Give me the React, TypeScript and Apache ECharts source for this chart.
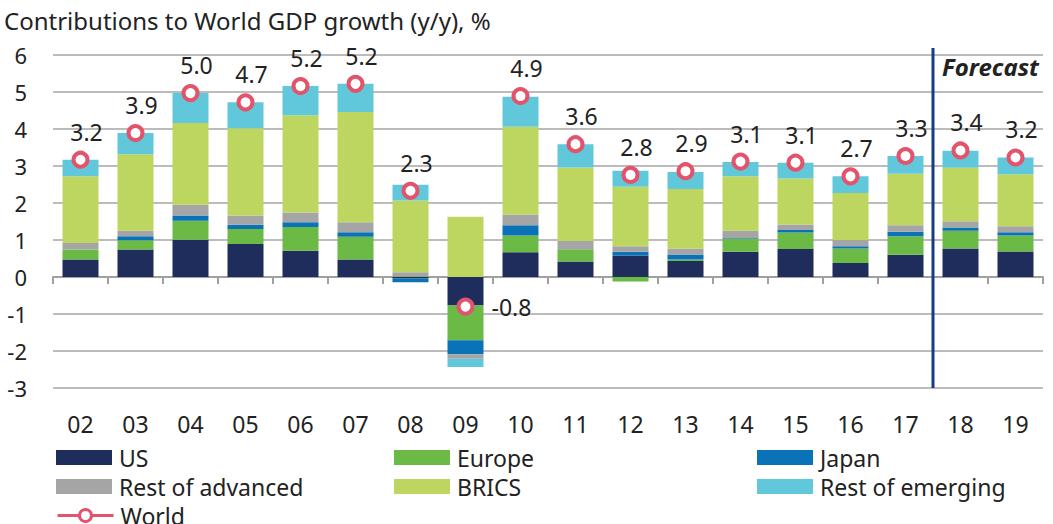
import React, { useEffect, useRef } from "react";
import * as echarts from "echarts";

const categories = ["02","03","04","05","06","07","08","09","10","11","12","13","14","15","16","17","18","19"];
const usValues = [0.47,0.74,1.01,0.89,0.71,0.47,-0.04,-0.77,0.67,0.42,0.58,0.43,0.68,0.76,0.38,0.60,0.77,0.69];
const europeValues = [0.27,0.25,0.51,0.41,0.64,0.62,0.02,-0.94,0.45,0.33,-0.12,0.04,0.35,0.44,0.39,0.50,0.48,0.43];
const japanValues = [0.0,0.11,0.14,0.11,0.13,0.12,-0.10,-0.38,0.28,0.0,0.10,0.14,0.02,0.07,0.06,0.12,0.09,0.09];
const restAdvancedValues = [0.18,0.15,0.29,0.25,0.26,0.27,0.11,-0.12,0.29,0.22,0.15,0.16,0.20,0.15,0.17,0.18,0.17,0.16];
const bricsValues = [1.80,2.07,2.21,2.36,2.63,2.98,1.94,1.63,2.37,1.99,1.61,1.61,1.47,1.24,1.27,1.39,1.44,1.41];
const restEmergingValues = [0.45,0.57,0.81,0.70,0.79,0.76,0.42,-0.22,0.81,0.63,0.43,0.46,0.39,0.43,0.45,0.48,0.46,0.45];
const worldValues = [3.17,3.89,4.97,4.72,5.16,5.22,2.33,-0.80,4.89,3.59,2.76,2.86,3.12,3.09,2.72,3.27,3.42,3.23];
const yTicks = [-3,-2,-1,0,1,2,3,4,5,6];

const FONT = "'Noto Sans', 'Open Sans', sans-serif";
const TEXT = "#222222";
const RED = "#e2546c";

const barSeries = [
  { name: "US", data: usValues, color: "#1e2d5b" },
  { name: "Europe", data: europeValues, color: "#6aba45" },
  { name: "Japan", data: japanValues, color: "#0a73b7" },
  { name: "Rest of advanced", data: restAdvancedValues, color: "#a6a5a6" },
  { name: "BRICS", data: bricsValues, color: "#bdd65f" },
  { name: "Rest of emerging", data: restEmergingValues, color: "#61c8dc" },
];

const legendPlaces: [string, number, number][] = [
  ["US", 56, 446],
  ["Europe", 394, 446],
  ["Japan", 757, 446],
  ["Rest of advanced", 56, 475],
  ["BRICS", 394, 475],
  ["Rest of emerging", 757, 475],
  ["World", 56, 504],
];

export default function App() {
  const ref = useRef<HTMLDivElement>(null);
  useEffect(() => {
    if (!ref.current) return;
    const chart = echarts.init(ref.current, null, { renderer: "svg" });
    const option: any = {
      animation: false,
      textStyle: { fontFamily: FONT },
      title: {
        text: "Contributions to World GDP growth (y/y), %",
        left: 4,
        top: 8,
        padding: 0,
        textStyle: { fontFamily: FONT, fontSize: 24, fontWeight: "normal", color: TEXT },
      },
      grid: { left: 53, right: 10, top: 55, bottom: 136, containLabel: false },
      legend: legendPlaces.map(([name, left, top]) => ({
        data: [name],
        left,
        top,
        padding: 0,
        itemWidth: 56,
        itemHeight: 15,
        textStyle: { fontFamily: FONT, fontSize: 23, color: TEXT, padding: [0, 0, 0, 2] },
        ...(name === "World"
          ? {
              lineStyle: { opacity: 1, color: RED, width: 3 },
              itemStyle: { color: "#fff", borderColor: RED, borderWidth: 3 },
            }
          : { icon: "rect" }),
      })),
      xAxis: [
        {
          type: "category",
          data: categories,
          position: "bottom",
          axisLine: { onZero: true, lineStyle: { color: "#a0a0a0", width: 2 } },
          axisTick: { show: true, length: 7, lineStyle: { color: "#a0a0a0", width: 2 } },
          axisLabel: { show: false },
          splitLine: { show: false },
        },
        {
          type: "category",
          data: categories,
          position: "bottom",
          axisLine: { show: false, onZero: false },
          axisTick: { show: false },
          axisLabel: { fontFamily: FONT, fontSize: 23, color: TEXT, margin: 24 },
        },
      ],
      yAxis: {
        type: "value",
        min: yTicks[0],
        max: yTicks[yTicks.length - 1],
        interval: 1,
        axisLine: { show: false },
        axisTick: { show: false },
        axisLabel: { fontFamily: FONT, fontSize: 22, color: TEXT, margin: 26 },
        splitLine: { lineStyle: { color: "#a6a6a6", width: 1.5 } },
      },
      series: [
        ...barSeries.map((s) => ({
          name: s.name,
          type: "bar",
          stack: "total",
          xAxisIndex: 0,
          data: s.data,
          barWidth: 36,
          itemStyle: { color: s.color },
        })),
        {
          name: "World",
          type: "line",
          xAxisIndex: 0,
          z: 10,
          data: worldValues.map((v) =>
            v < 0 ? { value: v, label: { offset: [46, 0] } } : { value: v }
          ),
          symbol: "circle",
          symbolSize: 14,
          itemStyle: { color: "#fff", borderColor: RED, borderWidth: 4 },
          lineStyle: { opacity: 0, color: RED, width: 3 },
          label: {
            show: true,
            position: "inside",
            offset: [6, -28],
            fontFamily: FONT,
            fontSize: 23,
            color: TEXT,
            formatter: (p: any) => Number(p.value).toFixed(1),
          },
        },
      ],
    };
    chart.setOption(option);
    const x17 = chart.convertToPixel({ xAxisIndex: 0 }, "17") as number;
    const x18 = chart.convertToPixel({ xAxisIndex: 0 }, "18") as number;
    const lineX = (x17 + x18) / 2;
    const yBottom = chart.convertToPixel({ yAxisIndex: 0 }, yTicks[0]) as number;
    chart.setOption({
      graphic: [
        {
          type: "line",
          shape: { x1: lineX, y1: 48, x2: lineX, y2: yBottom },
          style: { stroke: "#163d82", lineWidth: 3 },
          z: 20,
        },
        {
          type: "text",
          x: lineX + 9,
          y: 66,
          style: {
            text: "Forecast",
            font: `italic bold 24px ${FONT}`,
            fill: TEXT,
            verticalAlign: "middle",
            align: "left",
          },
          z: 20,
        },
      ],
    });
    return () => chart.dispose();
  }, []);
  return (
    <div
      ref={ref}
      style={{ position: "fixed", left: 0, top: 0, width: 1053, height: 524, background: "#fff" }}
    />
  );
}
